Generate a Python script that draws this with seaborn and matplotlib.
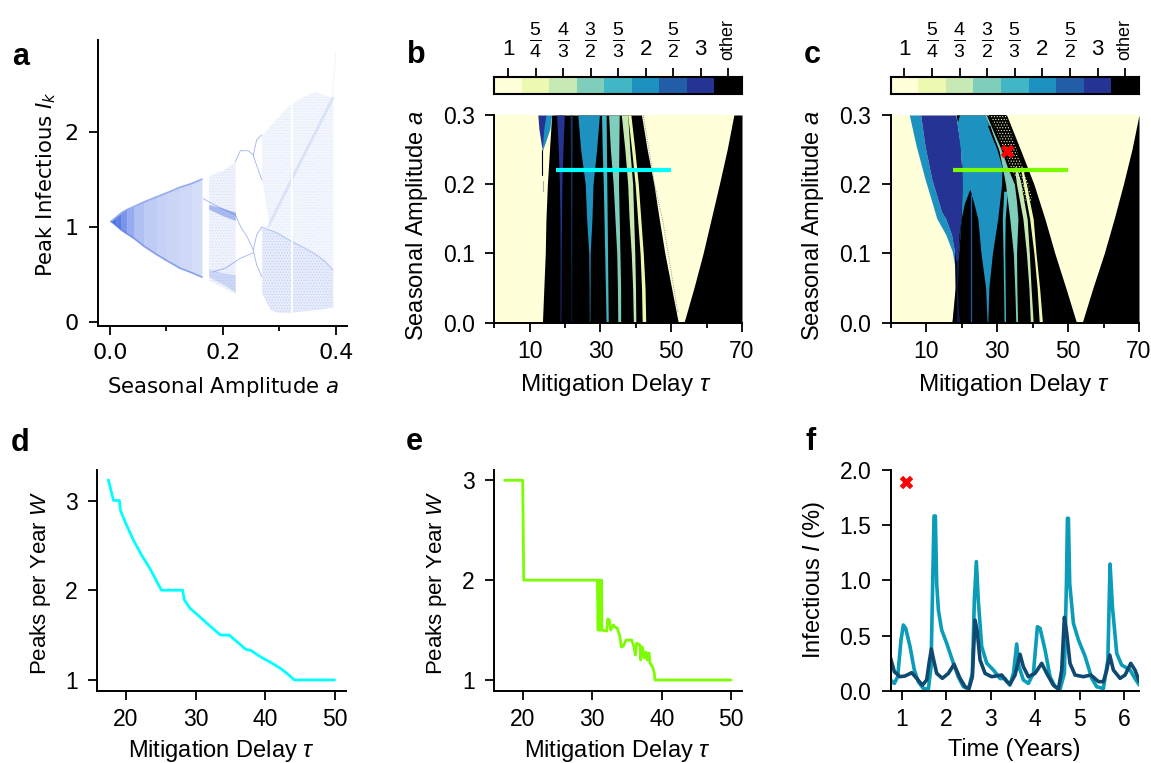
import matplotlib
matplotlib.use("Agg")
import matplotlib.pyplot as plt
import numpy as np
import seaborn as sns
from matplotlib.colors import ListedColormap

W, H = 1151, 763

# category strip
cat_labels = ["1", r"$\frac{5}{4}$", r"$\frac{4}{3}$", r"$\frac{3}{2}$", r"$\frac{5}{3}$",
              "2", r"$\frac{5}{2}$", "3", "other"]
cat_colors = ["#ffffd9", "#edf8b1", "#c7e9b4", "#7fcdbb", "#41b6c4", "#1d91c0", "#225ea8", "#253494", "#000000"]

# panel a: envelopes
cone_x = [0.002, 0.01, 0.02, 0.03, 0.042, 0.06, 0.083, 0.1, 0.124, 0.145, 0.163]
cone_up = [1.06, 1.10, 1.15, 1.185, 1.215, 1.265, 1.32, 1.36, 1.42, 1.46, 1.505]
cone_lo = [1.06, 1.02, 0.97, 0.93, 0.884, 0.80, 0.71, 0.65, 0.568, 0.52, 0.474]
cone_alpha = [0.95, 0.85, 0.7, 0.55, 0.42, 0.34, 0.3, 0.27, 0.25, 0.22]
mid_x = [0.175, 0.2, 0.222]
mid_up = [1.54, 1.6, 1.69]
mid_lo = [0.44, 0.37, 0.298]
mid_band_up = [1.24, 1.2, 1.16]
mid_band_lo = [1.19, 1.12, 1.07]
mid_low_up = [0.56, 0.52, 0.5]
mid_low_lo = [0.48, 0.40, 0.32]
chaos_x = [0.269, 0.284, 0.296, 0.319, 0.345, 0.363, 0.381, 0.395]
chaos_up = [1.97, 2.07, 2.15, 2.29, 2.38, 2.43, 2.39, 2.36]
chaos_lo = [0.305, 0.13, 0.105, 0.10, 0.12, 0.13, 0.145, 0.158]
chaos_mid = [1.0, 0.97, 0.94, 0.86, 0.78, 0.72, 0.64, 0.55]
chaos_wedge = [1.5, 0.97, 0.94, 0.86, 0.78, 0.72, 0.64, 0.55]
branch_top_x = [0.222, 0.231, 0.245, 0.254, 0.26, 0.269]
branch_top_y = [1.69, 1.805, 1.805, 1.76, 1.92, 1.97]
branch_dn_x = [0.254, 0.257, 0.269]
branch_dn_y = [1.76, 1.70, 1.5]
branch_mid_x = [0.222, 0.232, 0.243, 0.254, 0.26, 0.269]
branch_mid_y = [1.13, 1.0, 0.9, 0.76, 0.92, 1.0]
branch_lo_x = [0.254, 0.26, 0.269]
branch_lo_y = [0.76, 0.6, 0.48]
branch_low_x = [0.183, 0.205, 0.23, 0.254]
branch_low_y = [0.53, 0.57, 0.67, 0.73]
band_top_x = [0.165, 0.19, 0.222]
band_top_y = [1.30, 1.22, 1.13]
diag_x = [0.28, 0.33, 0.395]
diag_y = [1.0, 1.6, 2.36]
gap_x = [0.322, 0.322]
gap_y = [0.08, 2.32]
faint_x = [0.394, 0.4]
faint_y = [2.35, 2.85]

# panel b: tau bounds of each region at these amplitudes
lev = [0, 0.05, 0.1, 0.15, 0.2, 0.25, 0.3]
b_black_l = [13.6, 14, 14.4, 14.6, 15, 15.6, 16.2]
b_black_r = [52, 50.1, 48.2, 46.6, 45.1, 43.2, 41.6]
b_right_l = [53.6, 56.4, 59, 61.3, 63.6, 65.8, 67.7]
b_3_l = [18.6, 18.6, 18.6, 18.55, 18.4, 18.1, 17.6]
b_3_r = [18.8, 18.85, 18.9, 19, 19.1, 19.4, 19.8]
b_52_l = [21.7, 21.7, 21.65, 21.6, 21.55, 21.5, 21.4]
b_52_r = [21.85, 21.85, 21.9, 21.9, 21.95, 22, 22]
b_2_l = [26.85, 26.8, 26.7, 26.1, 25.7, 24.4, 23.6]
b_2_r = [27, 27.05, 27.1, 27.6, 27.9, 28.9, 29.7]
b_53_l = [31.6, 31.4, 31.2, 31, 30.8, 30.5, 30.3]
b_53_r = [32.2, 32.1, 32, 31.9, 31.8, 31.7, 31.6]
b_32_l = [34.9, 34.8, 34.6, 34.1, 33.6, 32.8, 32.3]
b_32_r = [35.7, 35.7, 35.5, 35.3, 35.1, 35.2, 35.3]
b_43_l = [39.3, 39.1, 38.7, 38.1, 37.7, 36.9, 35.9]
b_43_r = [40, 39.9, 39.7, 39.4, 39.1, 38.3, 37.7]
b_54_l = [41.8, 41.6, 41.2, 40.5, 39.8, 38.8, 37.7]
b_54_r = [42.8, 42.6, 42.1, 41.4, 40.7, 39.7, 38.6]
b_tip_a = [0.249, 0.26, 0.28, 0.3]
b_tip_3_l = [13.6, 13.2, 12.6, 12.3]
b_tip_3_r = [13.6, 13.9, 14.2, 14.8]
b_tip_2_l = [13.6, 13.7, 14, 14.6]
b_tip_2_r = [13.6, 14.4, 15.7, 16.2]
b_stem_x = [13.6, 13.6]
b_stem_a = [0.249, 0.213]
b_ghost_x = [13.8, 13.8]
b_ghost_a = [0.205, 0.19]
b_dots_x = [42.1, 45.3, 47.7, 51.9]
b_dots_a = [0.3, 0.2, 0.145, 0.014]
b_cut_tau = [17.5, 50]
b_cut_a = [0.22, 0.22]

# panel c
c_black_l = [17.3, 18.2, 18.0, 19.0, 20.0, 20.0, 19.0]
c_black_r = [52.4, 49.4, 46.3, 43.5, 40.4, 36.6, 32.7]
c_right_l = [54, 57, 60.2, 63, 65.6, 68, 70]
c_edge_a = [0, 0.026, 0.055, 0.079, 0.103, 0.127, 0.151, 0.16, 0.208, 0.256, 0.3]
c_edge_tau = [17.3, 17.9, 18.2, 18.2, 17.4, 15.6, 13, 12.5, 9.7, 7.2, 5.3]
c_split_tau = [18.2, 18.2, 18.25, 18.3, 18, 17.2, 15.5, 14.4, 11.6, 9.7, 8.5]
c_dark_a = [0.09, 0.103, 0.127, 0.151, 0.16, 0.208, 0.256, 0.3]
c_dark_l = [18.4, 18, 17.2, 15.5, 14.4, 11.6, 9.7, 8.5]
c_dark_r = [19, 19.1, 19.3, 19.9, 19.9, 20.2, 19.7, 18.4]
c_navy_a = [0, 0.09]
c_navy_l = [18.7, 18.4]
c_navy_r = [19.3, 19]
c_two_a = [0, 0.05, 0.1, 0.15, 0.2, 0.225, 0.25, 0.275, 0.3]
c_two_l = [19.3, 19, 19.1, 19.9, 20.2, 20.1, 19.7, 19.1, 18.4]
c_two_r = [27.4, 27.7, 28.7, 30.2, 31.3, 31.4, 30, 28.2, 26.8]
c_tri_a = [0, 0.05, 0.1, 0.15, 0.172, 0.193]
c_tri_l = [19.3, 18.8, 19.2, 19.9, 20.8, 22.35]
c_tri_r = [27.2, 26.8, 25.5, 24.6, 23.5, 22.35]
c_thin_x = [22.6, 22.6]
c_thin_a = [0, 0.185]
c_53_a = [0, 0.1, 0.15, 0.19]
c_53_l = [32, 31.7, 31.5, 31.9]
c_53_r = [32.4, 32.2, 32.3, 32.9]
c_32_a = [0, 0.05, 0.1, 0.15, 0.175, 0.2, 0.225, 0.25, 0.275, 0.3]
c_32_l = [35.3, 35, 34.6, 33.6, 33, 32.4, 31.5, 30.5, 28.6, 26.6]
c_32_r = [35.8, 35.6, 35.5, 35.9, 35.5, 34.9, 32.9, 31.2, 29.1, 27]
c_43_a = [0, 0.05, 0.1, 0.15, 0.175, 0.2, 0.225]
c_43_l = [39.4, 39, 38.3, 37.3, 36.4, 35.5, 34.9]
c_43_r = [40.2, 39.6, 39.1, 38.5, 37.6, 36.8, 35.5]
c_54_l = [41.9, 41.3, 40.4, 39.2, 38.3, 37.4, 36.6]
c_54_r = [42.8, 42, 41, 40.2, 39.2, 38.3, 37.1]
c_speck_a = [0.175, 0.2, 0.225, 0.25, 0.275, 0.3]
c_speck_l = [38, 35.7, 33.8, 31.9, 30, 27.7]
c_speck_r = [40, 39, 37.2, 35.5, 34, 32.5]
c_streak_a = [0.26, 0.285]
c_streak_l = [29.2, 27.3]
c_streak_r = [29.5, 28]
c_notch_a = [0.29, 0.3]
c_notch_l = [18.9, 18.5]
c_notch_r = [18.9, 19.4]
c_cut_tau = [17.5, 50]
c_cut_a = [0.22, 0.22]
mark_tau = [32.7]
mark_a = [0.248]

# panel d
d_tau = [17.46, 18.2, 19.05, 19.2, 20, 21.05, 22.25, 23.45, 24.4, 25.1, 28.15, 28.4, 29.2, 30.65,
         32.1, 33.6, 34.85, 35.9, 37.25, 37.95, 39.3, 40.7, 42.2, 43.35, 44.2, 50]
d_w = [3.23, 3, 3, 2.89, 2.74, 2.56, 2.39, 2.24, 2.1, 2, 2, 1.89, 1.8, 1.7,
       1.6, 1.5, 1.5, 1.43, 1.34, 1.33, 1.26, 1.2, 1.13, 1.06, 1, 1]

# panel e
e_tau = [17.4, 20, 20.15, 30.65, 30.75, 30.85, 30.95, 31.05, 31.15, 31.25, 31.35, 31.4,
         32.09, 32.23, 32.47, 32.66, 33.05, 33.29, 33.62, 34.0, 34.2, 34.48, 34.87, 35.68,
         36.02, 36.21, 36.4, 36.88, 36.98, 37.22, 37.5, 37.75, 37.94, 38.18, 38.32, 38.7,
         38.94, 39.04, 50]
e_w = [3, 3, 2, 2, 2, 1.5, 2, 1.5, 2, 1.5, 2, 1.5,
       1.49, 1.61, 1.6, 1.5, 1.55, 1.53, 1.52, 1.43, 1.33, 1.34, 1.4, 1.4,
       1.33, 1.25, 1.37, 1.35, 1.2, 1.33, 1.22, 1.28, 1.2, 1.27, 1.17, 1.13,
       1.07, 1, 1]

# panel f
f_t1 = [0.752, 0.835, 0.91, 0.985, 1.037, 1.09, 1.187, 1.284, 1.374, 1.486, 1.6, 1.659, 1.696, 1.726,
        1.756, 1.786, 1.824, 1.898, 2.01, 2.16, 2.27, 2.385, 2.5, 2.587, 2.632, 2.677, 2.72, 2.797,
        2.91, 3.06, 3.21, 3.32, 3.43, 3.51, 3.583, 3.636, 3.733, 3.845, 3.958, 4.048, 4.108, 4.22,
        4.332, 4.445, 4.557, 4.654, 4.7, 4.722, 4.744, 4.774, 4.857, 4.97, 5.12, 5.27, 5.38, 5.53,
        5.63, 5.68, 5.733, 5.83, 5.94, 6.13, 6.24, 6.34]
f_i1 = [0.097, 0.066, 0.127, 0.46, 0.595, 0.565, 0.4, 0.187, 0.08, 0.02, 0.015, 0.217, 0.973, 1.583,
        1.583, 0.97, 0.73, 0.55, 0.43, 0.25, 0.127, 0.036, 0.015, 0.157, 0.82, 1.17, 0.82, 0.4,
        0.25, 0.187, 0.11, 0.11, 0.05, 0.157, 0.423, 0.217, 0.097, 0.066, 0.157, 0.58, 0.565, 0.37,
        0.127, 0.036, 0.015, 0.157, 0.97, 1.562, 1.562, 0.97, 0.61, 0.46, 0.31, 0.11, 0.036, 0.02,
        0.278, 1.148, 0.76, 0.338, 0.233, 0.187, 0.11, 0.05]
f_t2 = [0.752, 0.835, 0.962, 1.074, 1.224, 1.337, 1.464, 1.561, 1.614, 1.666, 1.718, 1.786, 1.913,
        2.048, 2.176, 2.31, 2.423, 2.513, 2.587, 2.647, 2.692, 2.76, 2.872, 3.02, 3.247, 3.36, 3.433,
        3.546, 3.658, 3.733, 3.845, 3.995, 4.145, 4.257, 4.407, 4.52, 4.594, 4.654, 4.707, 4.78,
        4.894, 5.08, 5.25, 5.42, 5.53, 5.606, 5.673, 5.755, 5.905, 6.017, 6.145, 6.24, 6.34]
f_i2 = [0.293, 0.172, 0.127, 0.133, 0.163, 0.112, 0.05, 0.097, 0.248, 0.378, 0.278, 0.157, 0.112,
        0.157, 0.239, 0.112, 0.036, 0.02, 0.127, 0.64, 0.55, 0.278, 0.157, 0.127, 0.142, 0.082, 0.06,
        0.142, 0.33, 0.217, 0.127, 0.157, 0.248, 0.157, 0.05, 0.015, 0.187, 0.665, 0.52, 0.248,
        0.142, 0.127, 0.142, 0.082, 0.082, 0.187, 0.323, 0.187, 0.112, 0.142, 0.248, 0.187, 0.082]
f_mark_t = [1.09]
f_mark_i = [1.89]

sns.set_style("ticks")
plt.rcParams["font.family"] = ["Liberation Sans", "DejaVu Sans"]
plt.rcParams["mathtext.fontset"] = "custom"
plt.rcParams["mathtext.rm"] = "Liberation Sans"
plt.rcParams["mathtext.it"] = "Liberation Sans:italic"
plt.rcParams["mathtext.bf"] = "Liberation Sans:bold"
plt.rcParams["axes.linewidth"] = 1.4
plt.rcParams["hatch.linewidth"] = 0.5
for key in ["text.color", "axes.labelcolor", "axes.edgecolor", "xtick.color", "ytick.color"]:
    plt.rcParams[key] = "black"

fig = plt.figure(figsize=(W / 100, H / 100), dpi=100)


def px_axes(left, top, right, bottom):
    return fig.add_axes([left / W, 1 - bottom / H, (right - left) / W, (bottom - top) / H])


def tidy(ax, size=16.5):
    sns.despine(ax=ax)
    ax.tick_params(which="major", length=6.5, width=1.3, labelsize=size)
    ax.tick_params(which="minor", length=3.5, width=1.3)
    ax.tick_params(axis="x", which="major", pad=6)
    ax.tick_params(axis="y", which="major", pad=7.5)


def labels(ax, xtext, xsize, xcenter, xtop, ytext, ysize, yright, ycenter, **kw):
    ax.set_xlabel(xtext, fontsize=xsize, **kw)
    ax.set_ylabel(ytext, fontsize=ysize, **kw)
    ax.xaxis.set_label_coords(xcenter / W, 1 - xtop / H, transform=fig.transFigure)
    ax.yaxis.set_label_coords(yright / W, 1 - ycenter / H, transform=fig.transFigure)


def band(ax, a, left, right, color, **kw):
    ax.fill_betweenx(a, left, right, color=color, linewidth=0, **kw)


def stipple(ax, x, up, lo, alpha):
    ax.fill_between(x, up, lo, color=blue, alpha=alpha, linewidth=0)
    ax.fill_between(x, up, lo, facecolor="none", edgecolor=blue, alpha=alpha * 1.6, hatch="......", linewidth=0)


# a
ax = px_axes(98, 40, 347, 326)
blue = "#4169e1"
for i in range(len(cone_x) - 1):
    ax.fill_between(cone_x[i:i + 2], cone_up[i:i + 2], cone_lo[i:i + 2], color=blue,
                    alpha=cone_alpha[i], linewidth=0)
ax.plot(cone_x, cone_up, color=blue, alpha=0.55, lw=1.2)
ax.plot(cone_x, cone_lo, color=blue, alpha=0.55, lw=1.2)
stipple(ax, mid_x, mid_up, mid_lo, 0.08)
ax.fill_between(mid_x, mid_band_up, mid_band_lo, color=blue, alpha=0.4, linewidth=0)
ax.fill_between(mid_x, mid_low_up, mid_low_lo, color=blue, alpha=0.2, linewidth=0)
stipple(ax, chaos_x, chaos_up, chaos_wedge, 0.06)
stipple(ax, chaos_x, chaos_mid, chaos_lo, 0.12)
for xs, ys in [(branch_top_x, branch_top_y), (branch_dn_x, branch_dn_y), (branch_mid_x, branch_mid_y),
               (branch_lo_x, branch_lo_y), (branch_low_x, branch_low_y), (band_top_x, band_top_y)]:
    ax.plot(xs, ys, color=blue, alpha=0.5, lw=0.6)
ax.plot(chaos_x, chaos_mid, color=blue, alpha=0.3, lw=0.8)
ax.plot(diag_x, diag_y, color=blue, alpha=0.12, lw=2)
ax.plot(gap_x, gap_y, color="white", alpha=0.9, lw=1.5)
ax.plot(faint_x, faint_y, color=blue, alpha=0.05, lw=1)
ax.set_xlim(-0.0212, 0.42)
ax.set_ylim(-0.04, 2.97)
ax.set_xticks([0, 0.2, 0.4])
ax.set_xticklabels(["0.0", "0.2", "0.4"], family="DejaVu Sans")
ax.set_xticks([0.1, 0.3], minor=True)
ax.set_yticks([0, 1, 2])
ax.set_yticklabels(["0", "1", "2"], family="DejaVu Sans")
tidy(ax, 16)
labels(ax, "Seasonal Amplitude $a$", 15.3, 222.8, 375, "Peak Infectious $I_k$", 15.3, 58, 184,
       family="DejaVu Sans", math_fontfamily="dejavusans")


def regime_axes(left, right):
    ax = px_axes(left, 115, right, 322.7)
    ax.set_facecolor(cat_colors[0])
    ax.set_xlim(0, 70)
    ax.set_ylim(0, 0.3)
    ax.set_xticks([10, 30, 50, 70])
    ax.set_xticks([0, 20, 40, 60], minor=True)
    ax.set_yticks([0, 0.1, 0.2, 0.3])
    tidy(ax)
    return ax


def strip_axes(left, right):
    cax = px_axes(left, 77, right, 94)
    cmap = ListedColormap(cat_colors)
    sns.heatmap(np.arange(9).reshape(1, 9), cmap=cmap, vmin=-0.5, vmax=8.5, cbar=False, ax=cax,
                xticklabels=False, yticklabels=False)
    for s in cax.spines.values():
        s.set_visible(True)
        s.set_linewidth(1.5)
        s.set_color("black")
    cax.xaxis.tick_top()
    cax.set_xticks(np.arange(9) + 0.5)
    cax.set_xticklabels(cat_labels)
    cax.tick_params(axis="x", length=6.5, width=1.3, pad=6, labelsize=16)
    for lab, txt in zip(cax.get_xticklabels(), cat_labels):
        if txt == "other":
            lab.set_rotation(90)
            lab.set_fontsize(13)
        elif txt.startswith("$"):
            lab.set_fontsize(20)
    return cax


# b
ax = regime_axes(494.3, 742)
strip_axes(494.3, 742)
band(ax, lev, b_black_l, b_black_r, "black")
band(ax, lev, b_right_l, [70] * 7, "black")
band(ax, b_tip_a, b_tip_3_l, b_tip_3_r, cat_colors[7])
band(ax, b_tip_a, b_tip_2_l, b_tip_2_r, cat_colors[5])
band(ax, lev, b_3_l, b_3_r, cat_colors[7])
band(ax, lev, b_52_l, b_52_r, "#12355f")
band(ax, lev, b_2_l, b_2_r, cat_colors[5])
band(ax, lev, b_53_l, b_53_r, cat_colors[4])
band(ax, lev, b_32_l, b_32_r, cat_colors[3])
band(ax, lev, b_43_l, b_43_r, cat_colors[2])
band(ax, lev, b_54_l, b_54_r, cat_colors[1])
ax.plot(b_stem_x, b_stem_a, color="black", lw=0.8)
ax.plot(b_ghost_x, b_ghost_a, color="#aaaaaa", lw=0.8)
ax.plot(b_dots_x, b_dots_a, color="#777777", lw=0.6, ls=":")
sns.lineplot(x=b_cut_tau, y=b_cut_a, color="cyan", lw=3, ax=ax, errorbar=None, solid_capstyle="butt", zorder=5)
labels(ax, r"Mitigation Delay $\tau$", 17.5, 616, 371.5, "Seasonal Amplitude $a$", 17, 430, 225)

# c
ax = regime_axes(890.5, 1139)
strip_axes(890.5, 1139)
band(ax, c_edge_a, c_edge_tau, c_split_tau, cat_colors[5])
band(ax, lev, c_black_l, c_black_r, "black")
band(ax, lev, c_right_l, [70] * 7, "black")
band(ax, c_dark_a, c_dark_l, c_dark_r, cat_colors[7])
band(ax, c_navy_a, c_navy_l, c_navy_r, "#0c1c50")
band(ax, c_two_a, c_two_l, c_two_r, cat_colors[5])
band(ax, c_tri_a, c_tri_l, c_tri_r, "black")
ax.plot(c_thin_x, c_thin_a, color=cat_colors[6], lw=0.9)
band(ax, c_53_a, c_53_l, c_53_r, cat_colors[4])
ax.fill_betweenx(c_speck_a, c_speck_l, c_speck_r, facecolor="black", edgecolor=cat_colors[1],
                 hatch="......", linewidth=0)
band(ax, c_32_a, c_32_l, c_32_r, cat_colors[3])
band(ax, c_43_a, c_43_l, c_43_r, cat_colors[2])
band(ax, c_43_a, c_54_l, c_54_r, cat_colors[1])
band(ax, c_streak_a, c_streak_l, c_streak_r, "black")
band(ax, c_notch_a, c_notch_l, c_notch_r, "black")
sns.lineplot(x=c_cut_tau, y=c_cut_a, color="#7cfc00", lw=3, ax=ax, errorbar=None, solid_capstyle="butt", zorder=5)
sns.scatterplot(x=mark_tau, y=mark_a, marker="X", color="red", s=95, linewidth=0, ax=ax, zorder=6)
labels(ax, r"Mitigation Delay $\tau$", 17.5, 1014, 371.5, "Seasonal Amplitude $a$", 17, 826, 225)

# d
ax = px_axes(97.3, 470, 345.7, 690.7)
sns.lineplot(x=d_tau, y=d_w, color="cyan", lw=2, ax=ax, sort=False, estimator=None)
ax.set_xlim(15.87, 51.6)
ax.set_ylim(0.88, 3.34)
ax.set_xticks([20, 30, 40, 50])
ax.set_yticks([1, 2, 3])
tidy(ax)
labels(ax, r"Mitigation Delay $\tau$", 17, 221.5, 738, "Peaks per Year $W$", 16, 53, 583)

# e
ax = px_axes(494, 470, 742.3, 690.7)
sns.lineplot(x=e_tau, y=e_w, color="#7cfc00", lw=2, ax=ax, sort=False, estimator=None)
ax.set_xlim(15.87, 51.6)
ax.set_ylim(0.893, 3.103)
ax.set_xticks([20, 30, 40, 50])
ax.set_yticks([1, 2, 3])
tidy(ax)
labels(ax, r"Mitigation Delay $\tau$", 17, 617.5, 738, "Peaks per Year $W$", 16, 449, 583)

# f
ax = px_axes(890.7, 470, 1139, 690.7)
sns.lineplot(x=f_t1, y=f_i1, color="#0a9cb8", lw=2.6, ax=ax, sort=False, estimator=None)
sns.lineplot(x=f_t2, y=f_i2, color="#10496f", lw=2.6, ax=ax, sort=False, estimator=None)
sns.scatterplot(x=f_mark_t, y=f_mark_i, marker="X", color="red", s=95, linewidth=0, ax=ax, zorder=6, clip_on=False)
ax.set_xlim(0.753, 6.33)
ax.set_ylim(0, 2)
ax.set_xticks([1, 2, 3, 4, 5, 6])
ax.set_yticks([0, 0.5, 1, 1.5, 2])
ax.set_yticklabels(["0.0", "0.5", "1.0", "1.5", "2.0"])
tidy(ax)
labels(ax, "Time (Years)", 16.8, 1014.7, 738, "Infectious $I$ (%)", 17, 827, 580)

# panel letters
letter_x = [12, 407, 804, 11, 406, 805]
letter_y = [65, 63, 63, 451, 450, 450]
for letter, x, y in zip("abcdef", letter_x, letter_y):
    fig.text(x / W, 1 - y / H, letter, fontsize=22, fontweight="bold", ha="left", va="baseline")

fig.savefig("out.png", dpi=100)
